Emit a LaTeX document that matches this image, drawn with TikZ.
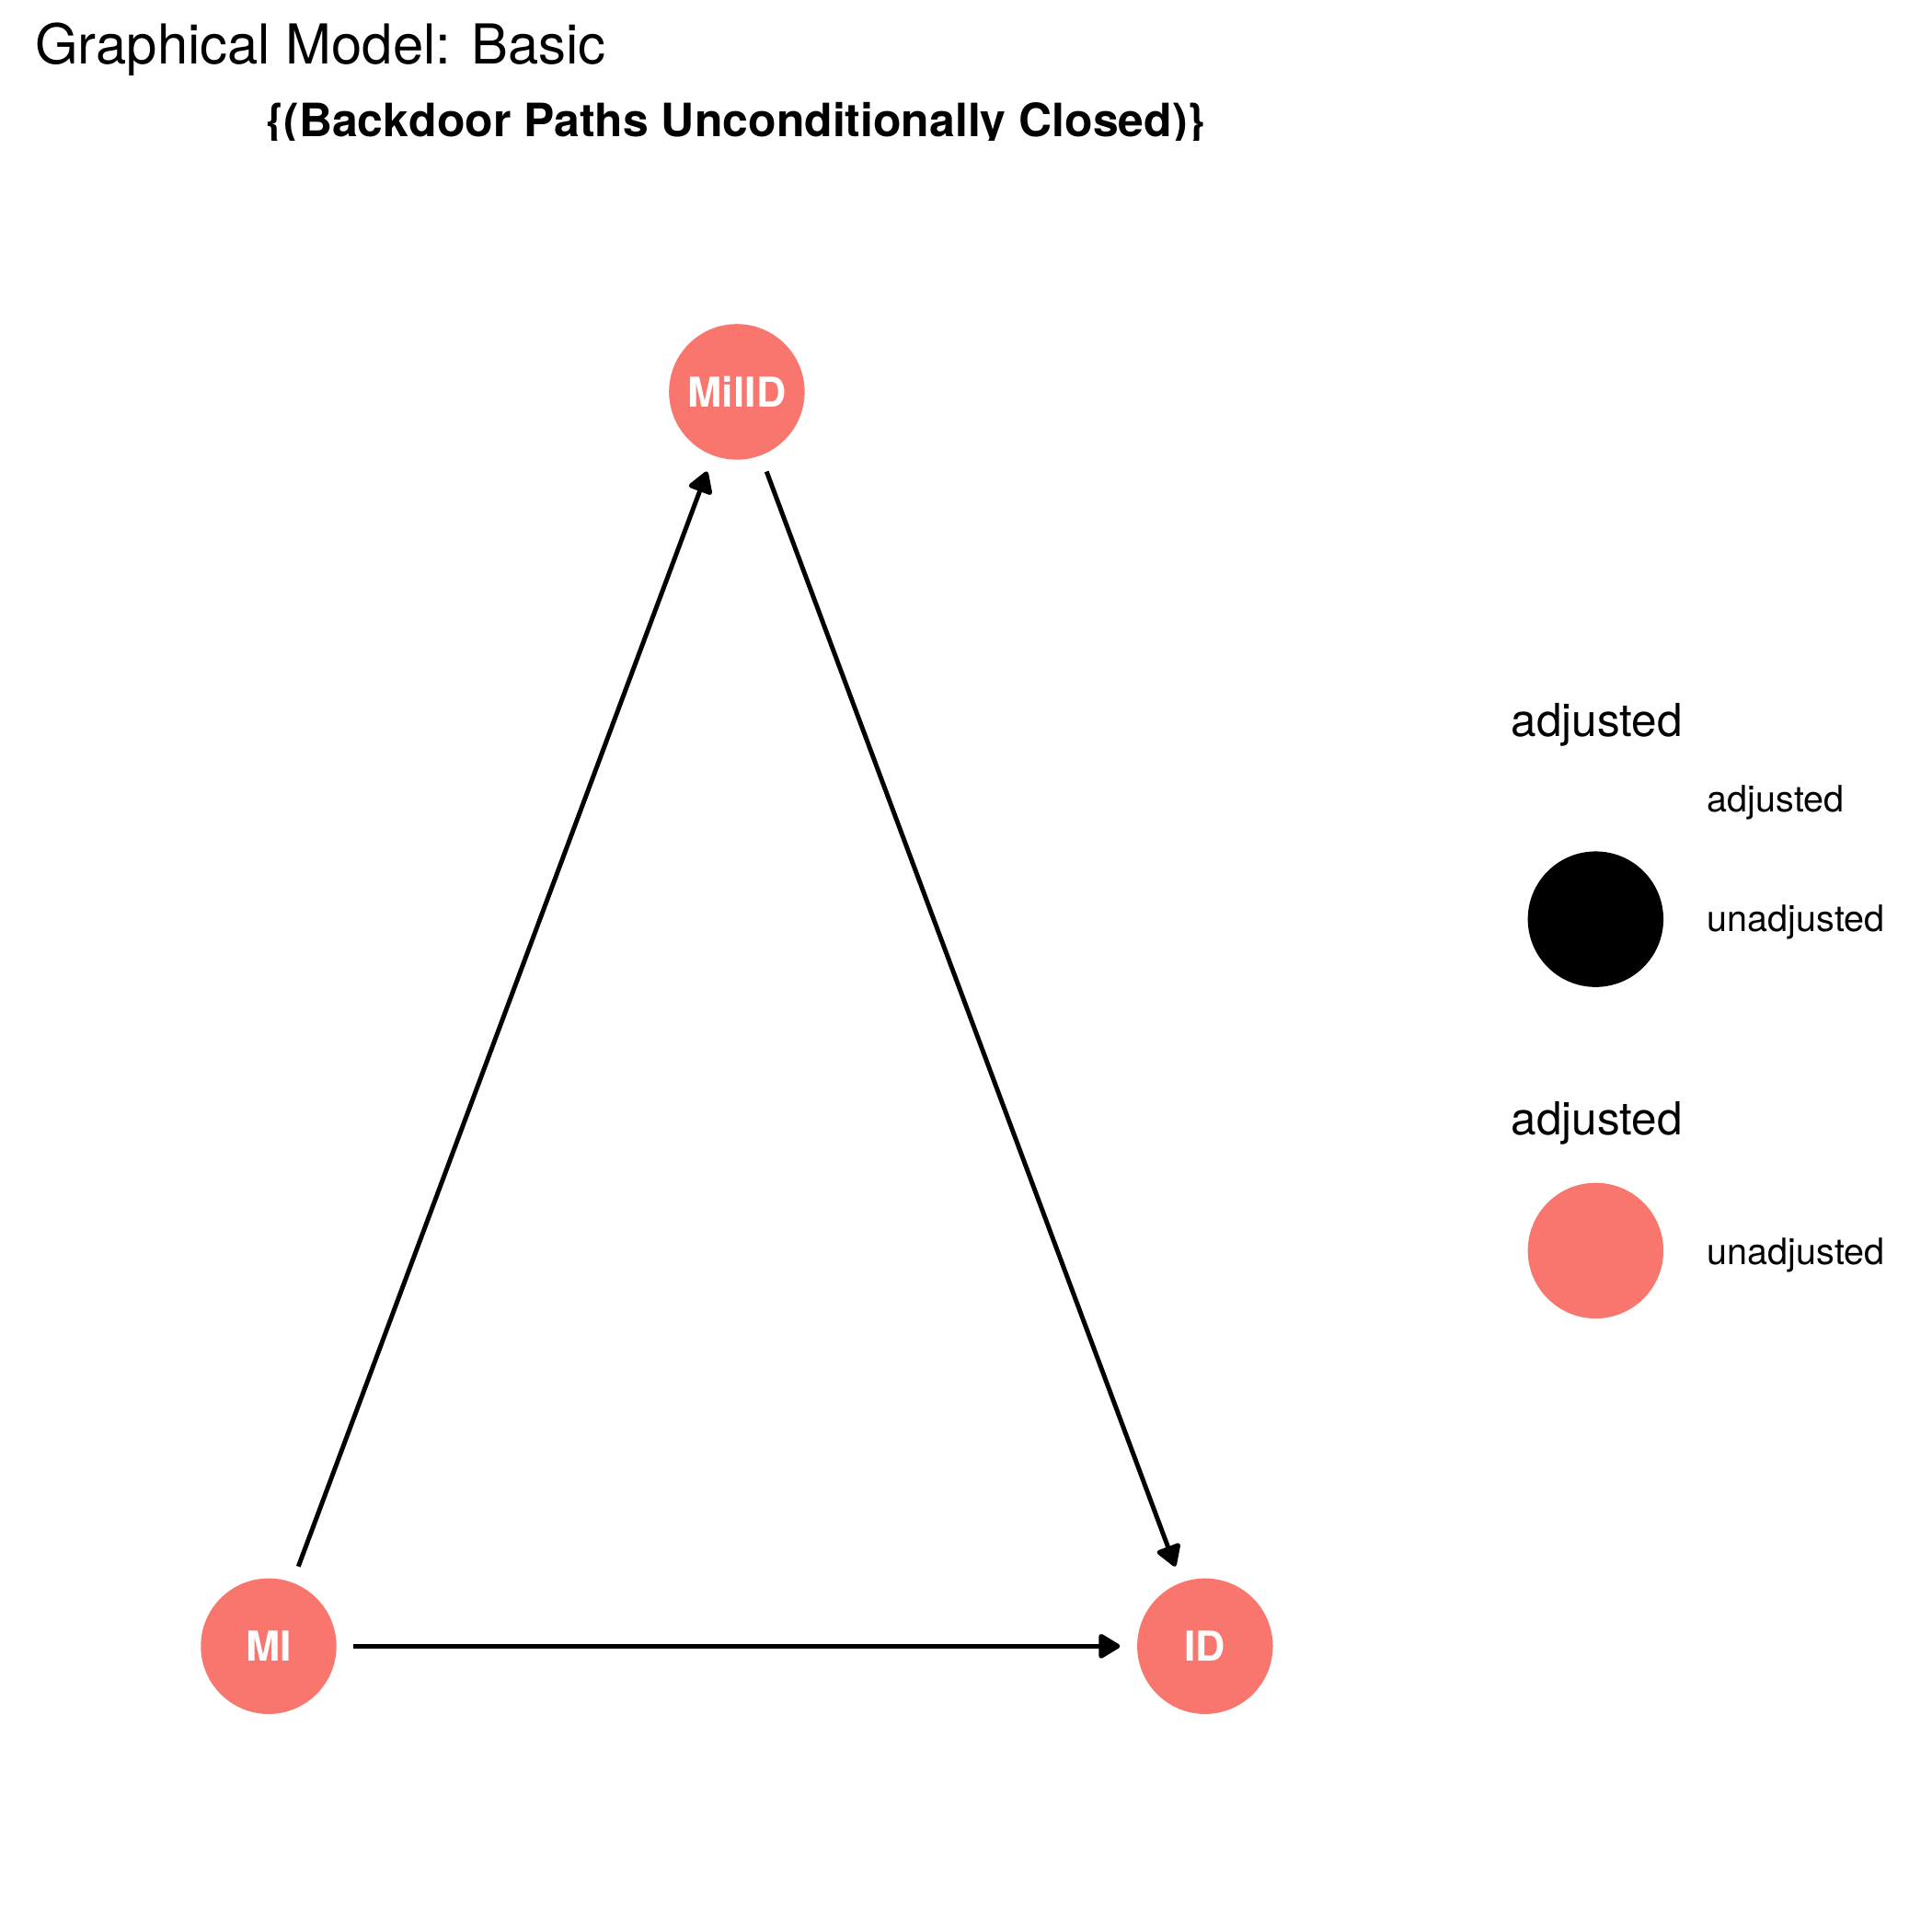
\documentclass[tikz,border=0pt]{standalone}
\usepackage{fontspec}
\setmainfont{TeX Gyre Heros}
\usepackage{tikz}
\usetikzlibrary{arrows.meta}
\definecolor{colorun}{HTML}{F8766D}
\tikzset{
  dagnode/.style={circle, fill=colorun, text=white, inner sep=0pt, minimum size=1.1cm,
    outer sep=0.14cm, font=\fontsize{9.5}{11}\selectfont\bfseries},
  keydot/.style={circle, inner sep=0pt, minimum size=1.1cm},
  edgedag/.style={black, line width=1.05pt, line join=round,
    -{Triangle[length=5.4pt,width=6.2pt,round]}},
  keytitle/.style={anchor=base west, inner sep=0pt, font=\fontsize{10.5}{12}\selectfont},
  keylabel/.style={anchor=base west, inner sep=0pt, font=\fontsize{8.4}{10}\selectfont}
}
\begin{document}
\begin{tikzpicture}[x=0.01cm, y=-0.01cm]
\useasboundingbox (0,0) rectangle (1568,1568);
% titles
\node[anchor=base west, inner sep=0pt, font=\fontsize{12.7}{14}\selectfont] (title) at (28,52) {Graphical Model: Basic};
\begin{scope}
\clip (0,0) rectangle (1568,114);
\node[anchor=base, inner sep=0pt, font=\fontsize{10.6}{12}\selectfont\bfseries] (subtitle) at (597,111) {\{(Backdoor Paths Unconditionally Closed)\}};
\end{scope}
% dag
\node[dagnode] (millid) at (598,318) {MilID};
\node[dagnode] (mi) at (218,1336) {MI};
\node[dagnode] (id) at (978,1336) {ID};
\draw[edgedag] (mi) -- (millid);
\draw[edgedag] (millid) -- (id);
\draw[edgedag] (mi) -- (id);
% legend
\node[keytitle] (keyadja) at (1226,598) {adjusted};
\node[keylabel] (keyadjlabel) at (1385,659) {adjusted};
\node[keydot, fill=black] (keyblack) at (1295,746) {};
\node[keylabel] (keyunlabela) at (1385,756) {unadjusted};
\node[keytitle] (keyadjb) at (1226,921) {adjusted};
\node[keydot, fill=colorun] (keyred) at (1295,1015) {};
\node[keylabel] (keyunlabelb) at (1385,1026) {unadjusted};
\end{tikzpicture}
\end{document}
